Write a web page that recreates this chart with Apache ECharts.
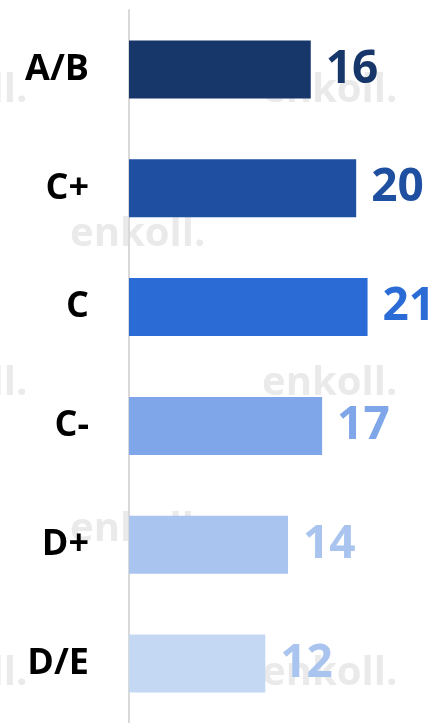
<!DOCTYPE html>
<html><head><meta charset="utf-8">
<script src="https://cdn.jsdelivr.net/npm/echarts@6/dist/echarts.min.js"></script>
<style>html,body{margin:0;padding:0;background:#fff}#c{width:440px;height:723px}</style>
</head><body><div id="c"></div>
<script>
const categories = ['A/B','C+','C','C-','D+','D/E'];
const values = [16,20,21,17,14,12];
const barColors = ['#17376b','#1f4fa0','#2a6bd6','#7ea6e8','#a8c4ef','#c5d8f3'];
const labelColors = ['#17376b','#1f4fa0','#2a6bd6','#7ea6e8','#a8c4ef','#a9c4ef'];

const chart = echarts.init(document.getElementById('c'), null, {renderer:'canvas'});
const wmStyle = {fill:'#eaeaea', font:'bold 40px "Open Sans"'};
const wm = [];
[[262,111],[262,404],[262,694]].forEach(p=>{
  wm.push({type:'text', x:p[0], y:p[1], style:Object.assign({text:'enkoll.', textVerticalAlign:'bottom'}, wmStyle), z:0});
  wm.push({type:'text', x:p[0]-370, y:p[1], style:Object.assign({text:'enkoll.', textVerticalAlign:'bottom'}, wmStyle), z:0});
});
[[70,255],[70,550]].forEach(p=>{
  wm.push({type:'text', x:p[0], y:p[1], style:Object.assign({text:'enkoll.', textVerticalAlign:'bottom'}, wmStyle), z:0});
});
chart.setOption({
  animation:false,
  graphic:{elements:wm},
  grid:{left:129, top:10, width:284, height:716},
  xAxis:{type:'value', min:0, max:25, show:false},
  yAxis:{type:'category', data:categories, inverse:true,
    axisLine:{lineStyle:{color:'#d9d9d9', width:2}},
    axisTick:{show:false},
    axisLabel:{margin:40, color:'#000', fontSize:36, fontWeight:'bold', fontFamily:'Open Sans', padding:[5,0,0,0]}
  },
  series:[{type:'bar', barWidth:58, z:2,
    data: values.map((v,i)=>({value:v, itemStyle:{color:barColors[i]}, label:{color:labelColors[i]}})),
    label:{show:true, position:'right', distance:15, fontSize:46, fontWeight:'bold', fontFamily:'Open Sans', padding:[5,0,0,0]}
  }]
});
</script></body></html>
